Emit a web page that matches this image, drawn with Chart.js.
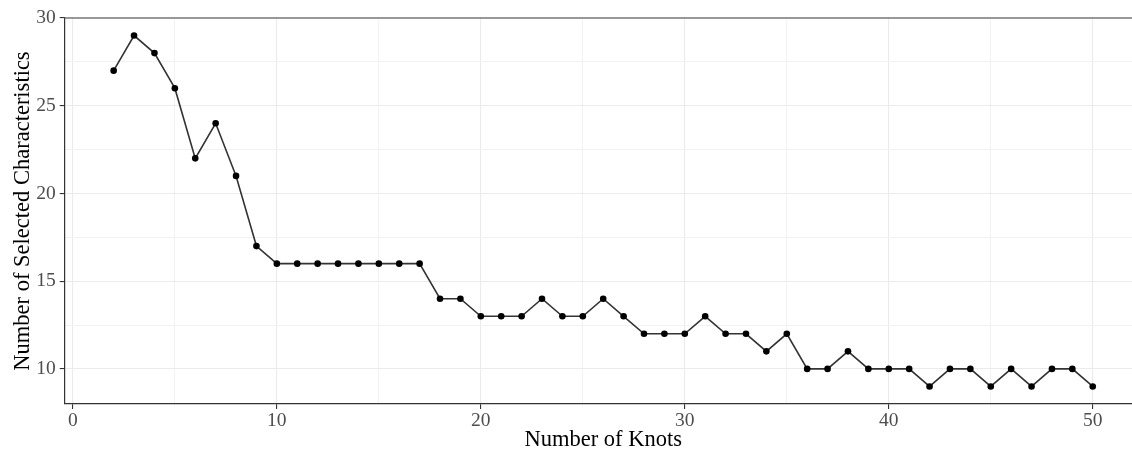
<!DOCTYPE html>
<html>
<head>
<meta charset="utf-8">
<script src="https://cdn.jsdelivr.net/npm/chart.js@4.4.1/dist/chart.umd.min.js"></script>
<style>
  html, body { margin: 0; padding: 0; background: #ffffff; overflow: hidden; }
  #wrap { width: 1132px; height: 450px; position: relative; overflow: hidden; }
  #c { display: block; }
</style>
</head>
<body>
<div id="wrap"><canvas id="c" width="1145" height="450"></canvas></div>
<script>
const knots = [2,3,4,5,6,7,8,9,10,11,12,13,14,15,16,17,18,19,20,21,22,23,24,25,26,
  27,28,29,30,31,32,33,34,35,36,37,38,39,40,41,42,43,44,45,46,47,48,49,50];
const selected = [27,29,28,26,22,24,21,17,16,16,16,16,16,16,16,16,14,14,13,13,13,14,13,13,14,
  13,12,12,12,13,12,12,11,12,10,10,11,10,10,10,9,10,10,9,10,9,10,10,9];
const xTicks = [0,5,10,15,20,25,30,35,40,45,50];
const xLabels = [0,10,20,30,40,50];
const yTicks = [10,12.5,15,17.5,20,22.5,25,27.5,30];
const yLabels = [10,15,20,25,30];
const xTitle = 'Number of Knots';
const yTitle = 'Number of Selected Characteristics';

const FONT = '"Liberation Serif", "Times New Roman", serif';

const topBorder = {
  id: 'topBorder',
  afterDraw(chart) {
    const {ctx, chartArea} = chart;
    ctx.save();
    ctx.strokeStyle = '#7a7a7a';
    ctx.lineWidth = 1.5;
    ctx.beginPath();
    ctx.moveTo(chartArea.left, chartArea.top);
    ctx.lineTo(chartArea.right, chartArea.top);
    ctx.stroke();
    ctx.restore();
  }
};

new Chart(document.getElementById('c'), {
  type: 'line',
  data: {
    datasets: [{
      data: knots.map((k, i) => ({x: k, y: selected[i]})),
      borderColor: '#333333',
      borderWidth: 1.6,
      pointRadius: 3.3,
      pointHoverRadius: 3.3,
      pointBackgroundColor: '#000000',
      pointBorderWidth: 0,
      tension: 0,
      fill: false
    }]
  },
  options: {
    responsive: false,
    animation: false,
    events: [],
    layout: { padding: { top: 18, right: 0, bottom: 0, left: 0 } },
    plugins: { legend: { display: false }, tooltip: { enabled: false } },
    scales: {
      x: {
        type: 'linear',
        min: -0.4,
        max: 52.4,
        afterBuildTicks(scale) { scale.ticks = xTicks.map(v => ({value: v})); },
        afterFit(scale) { scale.height = 46; scale.paddingRight = 0; scale.paddingLeft = 0; },
        border: { display: true, color: '#333333', width: 1.2 },
        grid: {
          color: ctx => (xLabels.includes(ctx.tick && ctx.tick.value) ? '#ebebeb' : '#f0f0f0'),
          lineWidth: ctx => (xLabels.includes(ctx.tick && ctx.tick.value) ? 1.1 : 0.9),
          tickColor: ctx => (xLabels.includes(ctx.tick && ctx.tick.value) ? '#333333' : 'rgba(0,0,0,0)'),
          tickLength: 5,
          drawTicks: true
        },
        ticks: {
          autoSkip: false,
          maxRotation: 0,
          padding: 0,
          color: '#4d4d4d',
          font: { family: FONT, size: 19.5 },
          callback: v => (xLabels.includes(v) ? String(v) : '')
        },
        title: {
          display: true,
          text: xTitle,
          color: '#000000',
          font: { family: FONT, size: 22.5, lineHeight: 0.9 },
          padding: { top: 0, bottom: 0 }
        }
      },
      y: {
        type: 'linear',
        min: 8,
        max: 30,
        afterBuildTicks(scale) { scale.ticks = yTicks.map(v => ({value: v})); },
        afterFit(scale) { scale.width = 64.7; scale.paddingTop = 0; scale.paddingBottom = 0; },
        border: { display: true, color: '#333333', width: 1.2 },
        grid: {
          color: ctx => (yLabels.includes(ctx.tick && ctx.tick.value) ? '#ebebeb' : '#f0f0f0'),
          lineWidth: ctx => (yLabels.includes(ctx.tick && ctx.tick.value) ? 1.1 : 0.9),
          tickColor: ctx => (yLabels.includes(ctx.tick && ctx.tick.value) ? '#333333' : 'rgba(0,0,0,0)'),
          tickLength: 5,
          drawTicks: true
        },
        ticks: {
          autoSkip: false,
          padding: 4,
          color: '#4d4d4d',
          font: { family: FONT, size: 19.5 },
          callback: v => (yLabels.includes(v) ? String(v) : '')
        },
        title: {
          display: true,
          text: yTitle,
          color: '#000000',
          font: { family: FONT, size: 22.5, lineHeight: 0.9 },
          padding: { top: 13, bottom: 0 }
        }
      }
    }
  },
  plugins: [topBorder]
});
</script>
</body>
</html>
